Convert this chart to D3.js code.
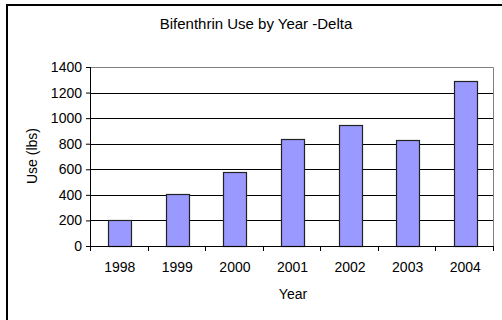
<!DOCTYPE html>
<html>
<head>
<meta charset="utf-8">
<script src="https://cdn.jsdelivr.net/npm/d3@7"></script>
<style>
  body { margin: 0; background: #fff; }
  svg { display: block; font-family: Arial, "Liberation Sans", sans-serif; }
</style>
</head>
<body>
<div class="canvas"></div>
<script>
const years = ['1998', '1999', '2000', '2001', '2002', '2003', '2004']
const use = [205, 404, 581, 837, 944, 830, 1294]
const yTicks = [0, 200, 400, 600, 800, 1000, 1200, 1400]

const width = 502, height = 320

const svg = d3.select('.canvas').append('svg').attr('width', width).attr('height', height)

// outer chart frame (runs off the right and bottom edges)
svg.append('rect')
    .attr('x', 7).attr('y', 5)
    .attr('width', width + 10).attr('height', height + 10)
    .attr('fill', 'none').attr('stroke', '#000').attr('stroke-width', 2)

let [mt, mr, mb, ml] = [67, 8, 74, 91]
const graphWidth = width - ml - mr
const graphHeight = height - mt - mb

const graph = svg.append('g').attr('transform', `translate(${ml}, ${mt})`)

const x = d3.scaleBand().domain(years).range([0, graphWidth]).paddingInner(0.6).paddingOuter(0.3)
const y = d3.scaleLinear().domain([0, 1400]).range([graphHeight, 0])

// gridlines
graph.selectAll('line.grid').data(yTicks.filter(d => d > 0 && d < 1400))
    .enter().append('line')
    .attr('class', 'grid')
    .attr('x1', 0).attr('x2', graphWidth)
    .attr('y1', d => Math.round(y(d)) + 0.5).attr('y2', d => Math.round(y(d)) + 0.5)
    .attr('stroke', '#000')

// plot box top / right in grey
graph.append('path')
    .attr('d', `M0,${y(1400) + 0.5}H${graphWidth - 0.5}V${graphHeight}`)
    .attr('fill', 'none').attr('stroke', '#808080')

graph.selectAll('rect.bar').data(use)
    .enter().append('rect')
    .attr('class', 'bar')
    .attr('x', (d, i) => Math.round(x(years[i])) + 0.5)
    .attr('y', d => Math.round(y(d)) + 0.5)
    .attr('width', Math.round(x.bandwidth()))
    .attr('height', d => graphHeight - Math.round(y(d)))
    .attr('fill', '#9999ff')
    .attr('stroke', '#222')
    .attr('stroke-width', 1.2)

const yAxis = d3.axisLeft(y).tickValues(yTicks).tickFormat(d3.format('d')).tickSize(5).tickPadding(4)
const yAxisG = graph.append('g').call(yAxis)
yAxisG.select('.domain').attr('d', `M-0.5,0.5V${graphHeight}`)
yAxisG.selectAll('text').style('font-size', '14px').attr('fill', '#000')
yAxisG.attr('font-family', null)

// category axis: ticks on band boundaries
const xAxisG = graph.append('g').attr('transform', `translate(0, ${graphHeight})`)
xAxisG.append('line').attr('x1', -5).attr('x2', graphWidth).attr('y1', 0.5).attr('y2', 0.5).attr('stroke', '#000')
const step = x.step()
xAxisG.selectAll('line.tk').data(d3.range(years.length + 1))
    .enter().append('line')
    .attr('class', 'tk')
    .attr('x1', i => Math.round(i * step) - 0.5).attr('x2', i => Math.round(i * step) - 0.5)
    .attr('y1', 0).attr('y2', 5)
    .attr('stroke', '#000')
xAxisG.selectAll('text').data(years)
    .enter().append('text')
    .attr('x', d => x(d) + x.bandwidth() / 2)
    .attr('y', 26)
    .attr('text-anchor', 'middle')
    .style('font-size', '14px')
    .text(d => d)

svg.append('text')
    .attr('x', 256).attr('y', 29)
    .attr('text-anchor', 'middle')
    .style('font-size', '15px')
    .text('Bifenthrin Use by Year -Delta')

svg.append('text')
    .attr('x', 293).attr('y', 299)
    .attr('text-anchor', 'middle')
    .style('font-size', '14px')
    .text('Year')

svg.append('text')
    .attr('transform', 'translate(37, 156) rotate(-90)')
    .attr('text-anchor', 'middle')
    .style('font-size', '14px')
    .text('Use (lbs)')
</script>
</body>
</html>
